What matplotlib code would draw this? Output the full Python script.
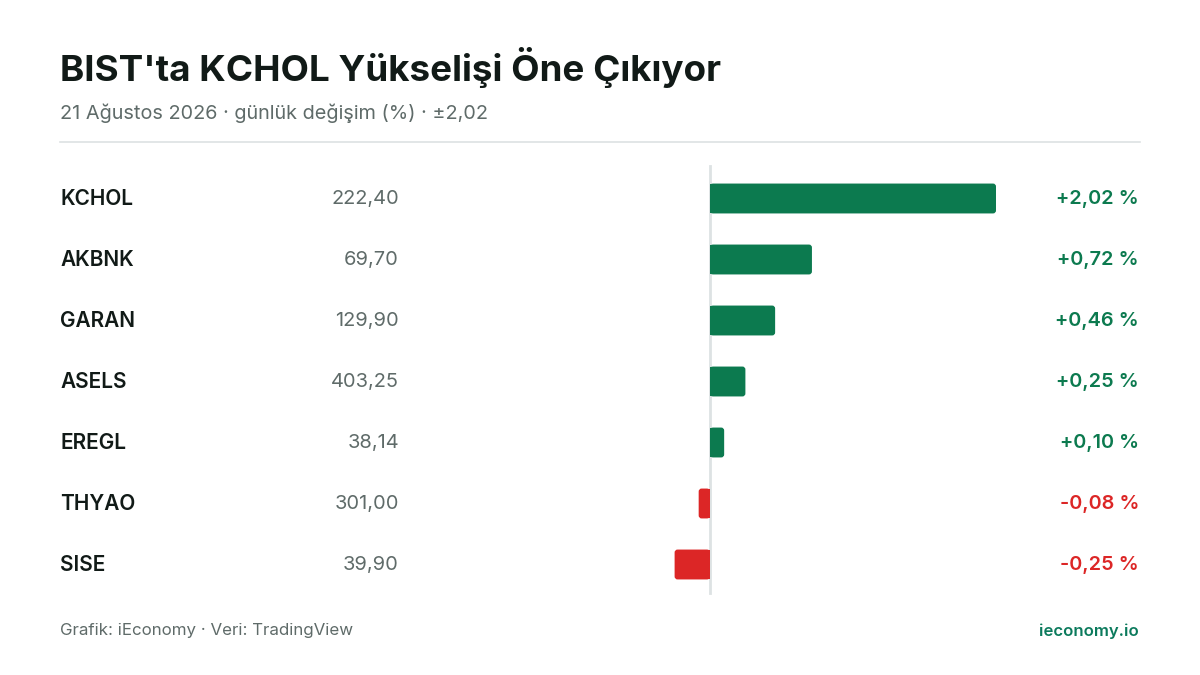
import matplotlib
matplotlib.use("Agg")
import matplotlib.pyplot as plt
import matplotlib.transforms as mtransforms
from matplotlib.patches import FancyBboxPatch, Rectangle

plt.rcParams['font.family'] = ['Inter', 'DejaVu Sans']

# Data
tickers = ["KCHOL", "AKBNK", "GARAN", "ASELS", "EREGL", "THYAO", "SISE"]
prices = ["222,40", "69,70", "129,90", "403,25", "38,14", "301,00", "39,90"]
changes = [2.02, 0.72, 0.46, 0.25, 0.10, -0.08, -0.25]

title = "BIST'ta KCHOL Yükselişi Öne Çıkıyor"
subtitle = "21 Ağustos 2026 · günlük değişim (%) · ±2,02"
source = "Grafik: iEconomy · Veri: TradingView"
brand = "ieconomy.io"

GREEN = "#0c7a4f"
RED = "#dc2626"
DARK = "#111a17"
GRAY = "#5f6b69"
LINE = "#dde2e3"

W, H = 1200, 675
fig = plt.figure(figsize=(12, 6.75), dpi=100)
fig.patch.set_facecolor("white")

def fx(px):
    return px / W

def fy(py):
    return 1 - py / H

# bar axes placed in pixel terms: zero at x=710, 2.02 -> x=996
ax_l, ax_r, ax_t, ax_b = 660, 1010, 168, 595
ax = fig.add_axes([fx(ax_l), fy(ax_b), fx(ax_r - ax_l), (ax_b - ax_t) / H])
ppu = (996 - 710) / 2.02  # pixels per percent
ax.set_xlim(-(710 - ax_l) / ppu, (ax_r - 710) / ppu)
ax.set_ylim(len(tickers) - 0.5, -0.5)
ax.axis("off")

ys = list(range(len(tickers)))
colors = [GREEN if c >= 0 else RED for c in changes]
bars = ax.barh(ys, changes, height=0.49, color=colors)

# swap plain bars for bars with rounded outer corners
row_px = (ax_b - ax_t) / len(tickers)
r_x = 3 / ppu
aspect = ppu / row_px
for b, col in zip(bars, colors):
    x0, y0, w, h = b.get_x(), b.get_y(), b.get_width(), b.get_height()
    left, width = min(x0, x0 + w), abs(w)
    b.set_visible(False)
    ax.add_patch(FancyBboxPatch((left, y0), width, h,
                                boxstyle=f"round,pad=0,rounding_size={r_x}",
                                mutation_aspect=aspect, fc=col, ec="none"))
    # flat edge on the zero side
    half = width / 2
    sx = 0 if w >= 0 else -half
    ax.add_patch(Rectangle((sx, y0), half, h, fc=col, ec="none"))

# zero line, slightly above the rows like the original
fig.add_artist(plt.Line2D([fx(710), fx(710)], [fy(166), fy(593)],
                          color=LINE, lw=2, transform=fig.transFigure, zorder=0))

# row labels
trans = mtransforms.blended_transform_factory(fig.transFigure, ax.transData)
for y, t, p, c, col in zip(ys, tickers, prices, changes, colors):
    fig.text(fx(60), y, t, transform=trans, ha="left", va="center",
             fontsize=15, fontweight="semibold", color=DARK)
    fig.text(fx(399), y, p, transform=trans, ha="right", va="center",
             fontsize=14.4, color=GRAY)
    lbl = f"{c:+.2f} %".replace(".", ",")
    fig.text(fx(1139), y, lbl, transform=trans, ha="right", va="center",
             fontsize=14.3, fontweight="semibold", color=col)

# header
fig.text(fx(60), fy(68), title, ha="left", va="center",
         fontsize=26.5, fontweight="bold", color=DARK)
fig.text(fx(60), fy(113), subtitle, ha="left", va="center",
         fontsize=14.3, color=GRAY)
fig.add_artist(plt.Line2D([fx(60), fx(1140)], [fy(142), fy(142)],
                          color=LINE, lw=1.2, transform=fig.transFigure))

# footer
fig.text(fx(60), fy(631), source, ha="left", va="center",
         fontsize=12.2, color=GRAY)
fig.text(fx(1139), fy(631), brand, ha="right", va="center",
         fontsize=12, fontweight="semibold", color="#0b7a5c")

fig.savefig("out.png", dpi=100, facecolor="white")
